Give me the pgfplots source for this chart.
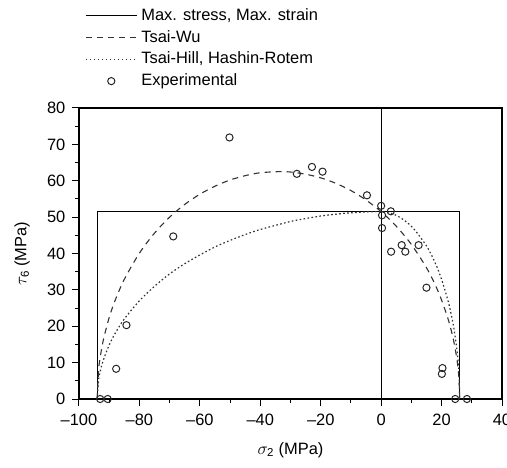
\documentclass[border=0pt]{standalone}
\usepackage{fontspec}
\setmainfont{Liberation Sans}
\usepackage{amsmath}
\usepackage{pgfplots}
\pgfplotsset{compat=1.18}
\pgfplotsset{
  linelegend/.style={legend image code/.code={\draw[##1] (0bp,0bp) -- (51bp,0bp);}},
  marklegend/.style={legend image code/.code={\path[draw=none,fill=none] (0bp,0bp) (51bp,0bp);\draw[mark repeat=2,mark phase=2,##1] plot coordinates {(0bp,0bp) (25.5bp,0bp) (51bp,0bp)};}},
}
\begin{document}
\fontsize{16.5}{19}\selectfont
\begin{tikzpicture}
\begin{axis}[
  name=ax,
  scale only axis, width=423bp, height=291bp,
  xmin=-100, xmax=40, ymin=0, ymax=80,
  xtick={-100,-80,...,40},
  xticklabels={\textendash100,\textendash80,\textendash60,\textendash40,\textendash20,0,20,40},
  minor xtick={-90,-70,...,30},
  ytick={0,10,...,80}, minor ytick={5,15,...,75},
  tick pos=left, tick align=outside,
  major tick length=7bp, minor tick length=4bp,
  axis line style={line width=1.1bp},
  every tick/.style={line width=1bp, black},
  tick label style={font=\fontsize{16.5}{19}\selectfont},
  xticklabel style={yshift=-2bp},
  yticklabel style={xshift=-1bp},
  /pgf/number format/assume math mode=true,
  xlabel={$\sigma_{\text{2}}$ (MPa)},
  ylabel={$\tau_{\text{6}}$ (MPa)},
  xlabel style={at={(axis description cs:0.5,0)}, anchor=center, yshift=-51bp},
  ylabel style={at={(axis description cs:0,0.5)}, anchor=center, yshift=57bp},
  clip=false,
  legend cell align=left,
  legend style={draw=none, fill=none, at={(axis description cs:0,1)}, anchor=south west, xshift=3bp, yshift=15.5bp, row sep=3.5bp, font=\fontsize{16.5}{19}\selectfont, nodes={inner xsep=4bp}},
  linelegend,
]
\addplot[black, line width=1.1bp] coordinates {(-94,0) (-94,51.5) (26,51.5) (26,0)};
\addlegendentry{Max. stress, Max. strain}
\addplot[black, line width=1.1bp, forget plot] coordinates {(0,0) (0,80)};
\addplot[black!80, line width=1.1bp, dash pattern=on 6bp off 5bp, smooth] coordinates {
(-94,0) (-93.5,8.05) (-93,11.36) (-92,16.0) (-90,22.44) (-88,27.2) (-85,32.9) (-80,40.1) (-75,45.6) (-70,50.0) (-65,53.5) (-60,56.3) (-55,58.5) (-50,60.2) (-45,61.4) (-40,62.2) (-34,62.5) (-30,62.4) (-25,61.8) (-20,60.8) (-15,59.3) (-10,57.3) (-5,54.7) (0,51.5) (5,47.5) (10,42.5) (15,36.1) (18,31.2) (20,27.2) (22,22.4) (23,19.5) (24,16.0) (25,11.4) (25.5,8.05) (25.8,5.1) (26,0)};
\addlegendentry{Tsai-Wu}
\addplot[black!80, line width=1.2bp, dash pattern=on 1.6bp off 2.4bp, smooth] coordinates {
(-94,0) (-93.5,5.31) (-93,7.49) (-92,10.57) (-90,14.87) (-88,18.1) (-85,22.0) (-80,27.0) (-75,31.0) (-70,34.4) (-65,37.2) (-60,39.6) (-55,41.8) (-50,43.6) (-45,45.2) (-40,46.6) (-30,48.8) (-25,49.6) (-20,50.3) (-15,50.8) (-10,51.2) (0,51.5) (5,50.5) (10,47.5) (15,42.1) (18,37.2) (20,32.9) (22,27.4) (23,24.0) (24,19.8) (25,14.1) (25.5,10.05) (25.8,6.4) (26,0)};
\addlegendentry{Tsai-Hill, Hashin-Rotem}
\addplot[only marks, mark=o, mark size=3.6bp, black!85, mark options={line width=1bp}, marklegend] coordinates {
(-50.2,71.9) (-27.9,61.9) (-22.9,63.8) (-19.4,62.5) (-4.7,56.0) (0,53.1) (3.2,51.6) (0.3,50.5) (0.3,47.0) (3.3,40.5) (6.8,42.3) (8.0,40.5) (12.4,42.3) (15.0,30.6) (20.3,8.5) (20.1,6.9) (24.5,0) (28.4,0) (-93.0,0) (-90.5,0) (-87.7,8.3) (-84.3,20.3) (-68.8,44.7)};
\addlegendentry{Experimental}
\end{axis}
\pgfresetboundingbox
\path[use as bounding box] ([xshift=-79bp,yshift=-69bp]ax.south west) rectangle ([xshift=5bp,yshift=108bp]ax.north east);
\end{tikzpicture}
\end{document}
